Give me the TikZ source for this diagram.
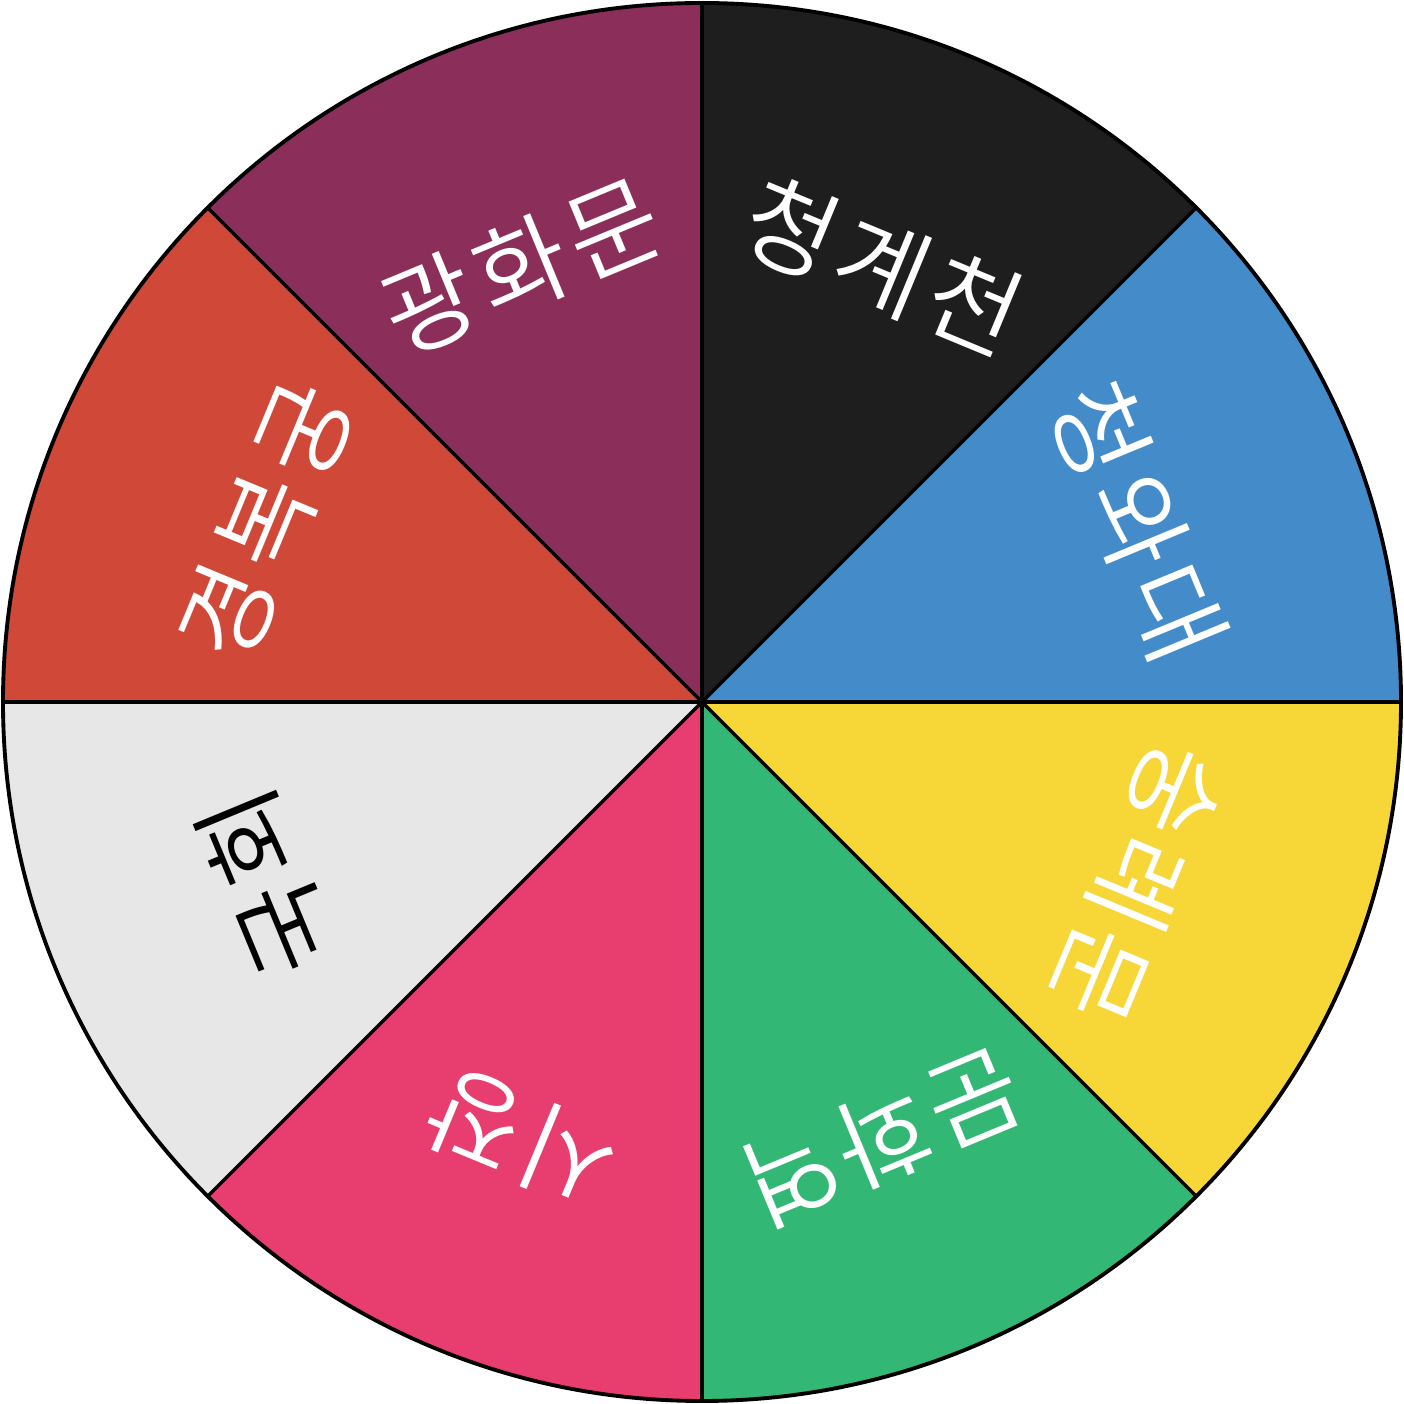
\documentclass[tikz,border=0pt]{standalone}
\usepackage{fontspec}
\IfFontExistsTF{Noto Sans CJK KR DemiLight}
  {\newfontfamily\kr[LetterSpace=7]{Noto Sans CJK KR DemiLight}}
  {\newfontfamily\kr[LetterSpace=7]{Noto Sans CJK KR Light}}
\definecolor{cPurple}{RGB}{139,47,90}
\definecolor{cBlack}{RGB}{30,30,30}
\definecolor{cBlue}{RGB}{68,139,202}
\definecolor{cYellow}{RGB}{247,215,55}
\definecolor{cGreen}{RGB}{50,184,116}
\definecolor{cPink}{RGB}{232,61,111}
\definecolor{cGray}{RGB}{231,231,231}
\definecolor{cRed}{RGB}{208,72,56}
\tikzset{
  spoke/.style={draw=black, line width=1pt},
  rim/.style={draw=black, line width=1.1pt},
  lbl/.style={font=\kr\fontsize{28.5}{28.5}\selectfont, inner sep=0pt, text=white},
}
\begin{document}
\begin{tikzpicture}
\useasboundingbox (-7.02,-7.02) rectangle (7.02,7.02);
\coordinate (O) at (0,0);
\def\R{6.99}
\foreach \a/\c in {90/cPurple, 45/cBlack, 0/cBlue, -45/cYellow, -90/cGreen, -135/cPink, 180/cGray, 135/cRed}{
  \fill[\c] (O) -- (\a:\R) arc[start angle=\a, delta angle=45, radius=\R] -- cycle;
}
\foreach \a [count=\i] in {0,45,...,315}{
  \coordinate (P\i) at (\a:\R);
  \draw[spoke] (O) -- (P\i);
}
\draw[rim] (O) circle (\R);
\node[lbl, rotate=22.5]   (t1) at (112.5:4.72) {광화문};
\node[lbl, rotate=-22.5]  (t2) at (67.5:4.72)  {청계천};
\node[lbl, rotate=-67.5]  (t3) at (22.5:4.72)  {청와대};
\node[lbl, rotate=-112.5] (t4) at (-22.5:4.72) {숭례문};
\node[lbl, rotate=-157.5] (t5) at (-67.5:4.72) {문화역};
\node[lbl, rotate=157.5]  (t6) at (-112.5:4.72){시장};
\node[lbl, rotate=112.5, text=black] (t7) at (202.5:4.72) {국회};
\node[lbl, rotate=67.5]   (t8) at (157.5:4.72) {경복궁};
\end{tikzpicture}
\end{document}
